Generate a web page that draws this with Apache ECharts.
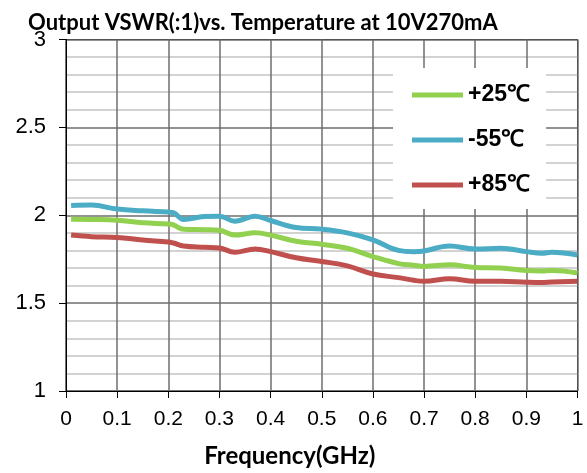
<!DOCTYPE html>
<html>
<head>
<meta charset="utf-8">
<script src="https://cdn.jsdelivr.net/npm/echarts@6/dist/echarts.min.js"></script>
<style>html,body{margin:0;padding:0;background:#fff}#c{width:587px;height:473px}</style>
</head>
<body>
<div id="c"></div>
<script>
const freq = [0.01,0.05,0.1,0.15,0.2,0.21,0.23,0.27,0.3,0.33,0.37,0.4,0.45,0.5,0.55,0.6,0.65,0.68,0.7,0.75,0.8,0.85,0.9,0.93,0.95,1.0];
const vswr25 = [1.977,1.976,1.972,1.957,1.95,1.945,1.92,1.918,1.915,1.887,1.90,1.887,1.852,1.835,1.812,1.765,1.725,1.715,1.709,1.718,1.703,1.70,1.685,1.683,1.685,1.671];
const vswrM55 = [2.056,2.058,2.035,2.025,2.018,2.015,1.976,1.993,1.995,1.966,1.995,1.97,1.93,1.921,1.90,1.86,1.80,1.793,1.797,1.825,1.808,1.812,1.793,1.784,1.79,1.774];
const vswr85 = [1.887,1.878,1.874,1.859,1.848,1.842,1.825,1.818,1.814,1.79,1.808,1.793,1.758,1.737,1.712,1.666,1.645,1.63,1.624,1.639,1.624,1.625,1.619,1.617,1.62,1.624];
const seriesNames = ['+25℃','-55℃','+85℃'];
const colors = ['#92D050','#4BACC6','#C0504D'];
const titleText = 'Output VSWR(:1)vs. Temperature at 10V270mA';
const xName = 'Frequency(GHz)';

const pairs = v => freq.map((f,i)=>[f,v[i]]);
const chart = echarts.init(document.getElementById('c'), null, {renderer:'canvas'});
const mk = (name, vals, color) => ({
  name, type:'line', data: pairs(vals), smooth:0.4, symbol:'none',
  lineStyle:{width:5,color}, itemStyle:{color}, z:3
});
chart.setOption({
  animation:false,
  title:{text:titleText,left:23,top:7,textStyle:{fontFamily:'Lato',fontWeight:'bold',fontSize:22,color:'#000'}},
  grid:{left:66,right:9.5,top:39.5,bottom:79,show:true,borderColor:'#000',borderWidth:1},
  legend:{
    orient:'vertical',left:393,top:68,padding:[15,16,12,19],backgroundColor:'#fff',
    itemWidth:51,itemHeight:5,itemGap:21,icon:'rect',
    textStyle:{fontFamily:'Liberation Sans',fontWeight:'bold',fontSize:23,lineHeight:24,color:'#000'},
    data:seriesNames
  },
  xAxis:{
    type:'value',min:0,max:1,interval:0.1,
    name:xName,nameLocation:'middle',nameGap:53,
    nameTextStyle:{fontFamily:'Lato',fontWeight:'bold',fontSize:24,color:'#000',padding:[0,64,0,0]},
    axisLine:{lineStyle:{color:'#000',width:1}},
    axisTick:{show:true,length:7,lineStyle:{color:'#000'}},
    axisLabel:{fontFamily:'Liberation Sans',fontSize:21,color:'#000',margin:18},
    splitLine:{show:true,lineStyle:{color:'#6e6e6e',width:1.5}}
  },
  yAxis:{
    type:'value',min:1,max:3,interval:0.5,
    axisLine:{show:true,lineStyle:{color:'#000',width:1}},
    axisTick:{show:true,length:7,lineStyle:{color:'#000'}},
    axisLabel:{fontFamily:'Liberation Sans',fontSize:22,color:'#000',margin:20},
    splitLine:{show:true,lineStyle:{color:'#6e6e6e',width:1.5}},
    minorTick:{show:false,splitNumber:5},
    minorSplitLine:{show:true,lineStyle:{color:'#c4c4c4',width:1.5}}
  },
  series:[mk(seriesNames[0],vswr25,colors[0]),mk(seriesNames[1],vswrM55,colors[1]),mk(seriesNames[2],vswr85,colors[2])]
});
</script>
</body>
</html>
